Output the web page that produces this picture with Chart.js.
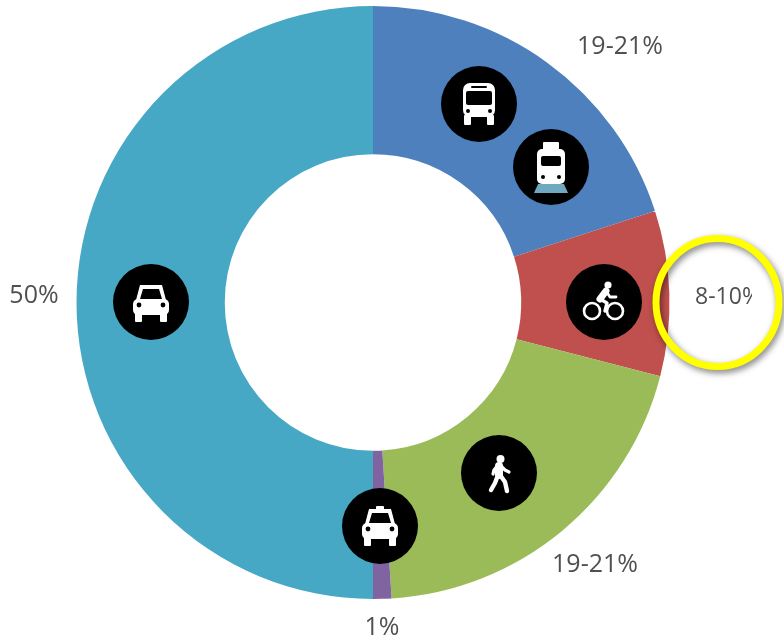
<!DOCTYPE html>
<html>
<head>
<meta charset="utf-8">
<style>
  html, body { margin: 0; padding: 0; background: #fff; }
  canvas { display: block; filter: blur(0.5px); }
</style>
<script src="https://cdn.jsdelivr.net/npm/chart.js@4/dist/chart.umd.js"></script>
</head>
<body>
<canvas id="donut" width="784" height="640"></canvas>
<script>
const categories = ['Transit', 'Bike', 'Walk', 'Taxi', 'Car'];
const shares = [20, 9, 20, 1, 50];
const sliceColors = ['#4E80BD', '#C0504D', '#9BBB59', '#8064A2', '#46A8C5'];
const shareLabels = ['19-21%', '8-10%', '19-21%', '1%', '50%'];

// Text spots around the ring: x, y (centre of the text), font size
const labelSpots = [[620, 47, 25], [728, 297, 23], [595, 565, 25], [382, 628, 25], [34, 296, 25]];
const iconSpots = { bus: [479, 104], tram: [551, 167], bike: [604, 302], walk: [499, 473], taxi: [380, 526], car: [151, 302] };

function dot(ctx, x, y, r, color) {
    ctx.fillStyle = color;
    ctx.beginPath();
    ctx.arc(x, y, r, 0, Math.PI * 2);
    ctx.fill();
}

function box(ctx, x, y, w, h, r, color) {
    ctx.fillStyle = color;
    ctx.beginPath();
    ctx.roundRect(x, y, w, h, r);
    ctx.fill();
}

function poly(ctx, pts, color) {
    ctx.fillStyle = color;
    ctx.beginPath();
    pts.forEach((p, i) => i ? ctx.lineTo(p[0], p[1]) : ctx.moveTo(p[0], p[1]));
    ctx.closePath();
    ctx.fill();
}

function line(ctx, pts, width) {
    ctx.strokeStyle = '#fff';
    ctx.lineWidth = width;
    ctx.lineCap = 'round';
    ctx.lineJoin = 'round';
    ctx.beginPath();
    pts.forEach((p, i) => i ? ctx.lineTo(p[0], p[1]) : ctx.moveTo(p[0], p[1]));
    ctx.stroke();
}

function drawCarShape(ctx) {
    poly(ctx, [[-15, -2], [-11, -17], [11, -17], [15, -2]], '#fff');
    poly(ctx, [[-11, -3], [-8, -13], [8, -13], [11, -3]], '#000');
    box(ctx, -18, -3, 36, 16, 5, '#fff');
    box(ctx, -16, 11, 7, 9, 1, '#fff');
    box(ctx, 9, 11, 7, 9, 1, '#fff');
    dot(ctx, -12, 3, 2.4, '#000');
    dot(ctx, 12, 3, 2.4, '#000');
}

const iconDrawers = {
    bus(ctx) {
        box(ctx, -16, -21, 32, 34, 7, '#fff');
        box(ctx, -13, -13, 26, 14, 2, '#000');
        box(ctx, -8, -18, 16, 2, 1, '#000');
        box(ctx, -15, 11, 7, 10, 1, '#fff');
        box(ctx, 8, 11, 7, 10, 1, '#fff');
        dot(ctx, -11, 7, 2, '#000');
        dot(ctx, 11, 7, 2, '#000');
    },
    tram(ctx) {
        box(ctx, -8, -25, 16, 8, 1, '#fff');
        box(ctx, -14, -18, 28, 35, 5, '#fff');
        box(ctx, -10, -11, 20, 10, 2, '#000');
        dot(ctx, -8, 10, 2, '#000');
        dot(ctx, 8, 10, 2, '#000');
        poly(ctx, [[-13, 17], [13, 17], [17, 26], [-17, 26]], '#6FA9BF');
    },
    bike(ctx) {
        ctx.strokeStyle = '#fff';
        ctx.lineWidth = 2.6;
        [-12, 11].forEach(x => {
            ctx.beginPath();
            ctx.arc(x, 9, 8, 0, Math.PI * 2);
            ctx.stroke();
        });
        dot(ctx, 4, -17, 3.6, '#fff');
        line(ctx, [[-4, -3], [2, -11]], 7);
        line(ctx, [[2, -11], [6, -5], [12, -5]], 2.8);
        line(ctx, [[-4, -3], [3, 1], [1, 9]], 3.4);
    },
    walk(ctx) {
        dot(ctx, 1.5, -14, 4, '#fff');
        line(ctx, [[0, -7], [0, 2]], 8);
        line(ctx, [[1, -8], [6, -3], [10, -1]], 3.2);
        line(ctx, [[-1, -8], [-5, -3], [-6, 1]], 3.2);
        line(ctx, [[-1, 2], [-4, 10], [-8, 17]], 4.4);
        line(ctx, [[1, 2], [6, 9], [8, 18]], 4.4);
    },
    taxi(ctx) {
        box(ctx, -4, -20, 8, 4, 1, '#fff');
        drawCarShape(ctx);
    },
    car: drawCarShape
};

// Black discs with the white mode icons
const iconPlugin = {
    id: 'modeIcons',
    afterDatasetsDraw(chart) {
        const ctx = chart.ctx;
        Object.keys(iconSpots).forEach(name => {
            const spot = iconSpots[name];
            dot(ctx, spot[0], spot[1], 38, '#000');
            ctx.save();
            ctx.translate(spot[0], spot[1]);
            iconDrawers[name](ctx);
            ctx.restore();
        });
    }
};

// Percent labels, plus the yellow ring round the cut-off one
const labelPlugin = {
    id: 'shareLabels',
    afterDraw(chart) {
        const ctx = chart.ctx;
        ctx.save();
        ctx.fillStyle = '#505050';
        ctx.textAlign = 'center';
        ctx.textBaseline = 'middle';
        shareLabels.forEach((text, i) => {
            ctx.save();
            ctx.font = labelSpots[i][2] + 'px "Open Sans"';
            if (i === 1) {
                ctx.beginPath();
                ctx.rect(680, 270, 72, 60);
                ctx.clip();
            }
            ctx.fillText(text, labelSpots[i][0], labelSpots[i][1]);
            ctx.restore();
        });
        ctx.shadowColor = 'rgba(0, 0, 0, 0.5)';
        ctx.shadowBlur = 6;
        ctx.shadowOffsetX = 2;
        ctx.shadowOffsetY = 3;
        ctx.strokeStyle = '#FFFF00';
        ctx.lineWidth = 7;
        ctx.beginPath();
        ctx.ellipse(717.5, 302.5, 61.5, 64, 0, 0, Math.PI * 2);
        ctx.stroke();
        ctx.restore();
    }
};

new Chart(document.getElementById('donut').getContext('2d'), {
    type: 'doughnut',
    data: {
        labels: categories,
        datasets: [{
            data: shares,
            backgroundColor: sliceColors,
            borderWidth: 0
        }]
    },
    options: {
        responsive: false,
        animation: false,
        cutout: '50%',
        layout: { padding: { left: 76, right: 114, top: 6, bottom: 41 } },
        plugins: {
            legend: { display: false },
            tooltip: { enabled: false }
        }
    },
    plugins: [iconPlugin, labelPlugin]
});
</script>
</body>
</html>
